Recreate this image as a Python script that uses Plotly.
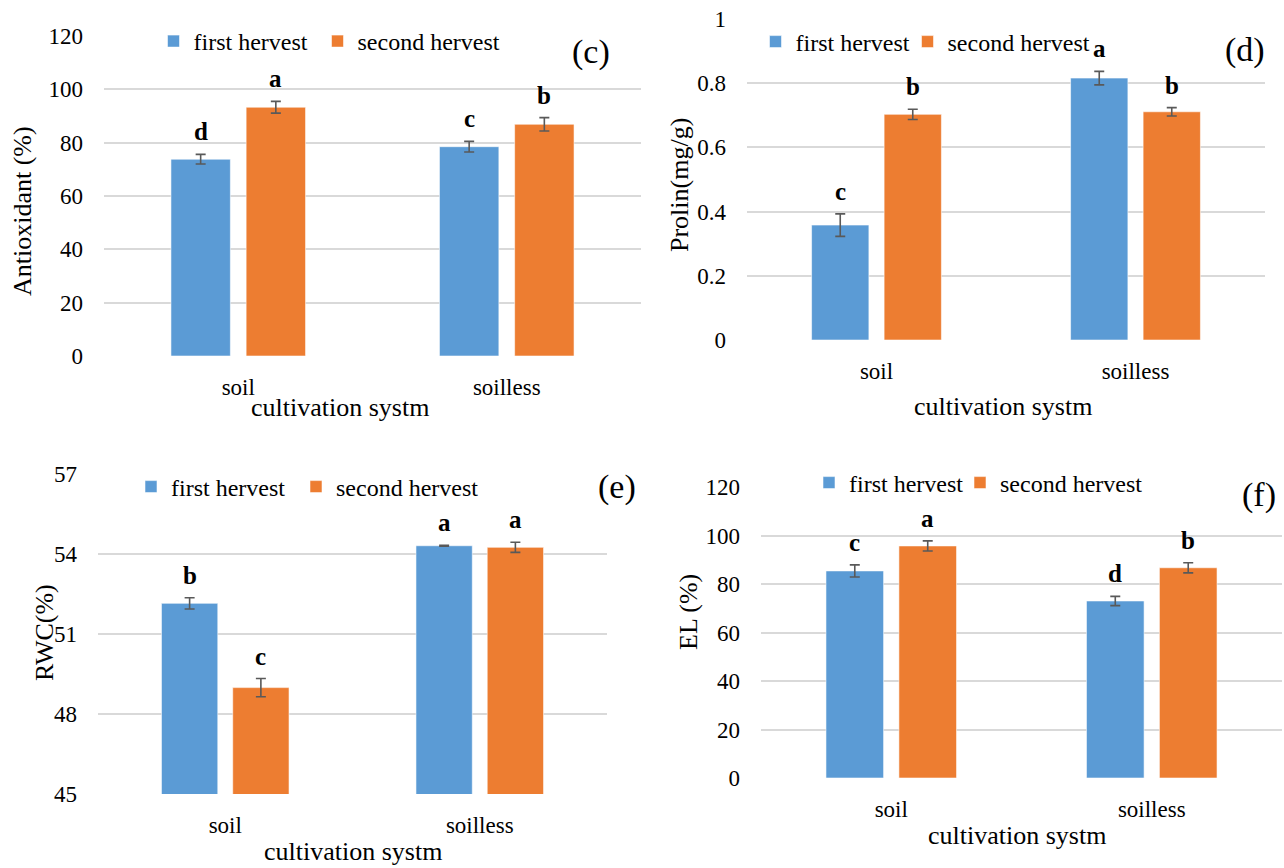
import plotly.graph_objects as go

# ---------------- data ----------------
categories = ["soil", "soilless"]
series_names = ["first hervest", "second hervest"]

antiox_first = [73.8, 78.5]
antiox_first_err = [1.8, 2.0]
antiox_second = [93.3, 86.9]
antiox_second_err = [2.2, 2.5]
antiox_letters_first = ["d", "c"]
antiox_letters_second = ["a", "b"]
antiox_ticks = [0, 20, 40, 60, 80, 100, 120]

prolin_first = [0.358, 0.816]
prolin_first_err = [0.035, 0.021]
prolin_second = [0.703, 0.711]
prolin_second_err = [0.016, 0.013]
prolin_letters_first = ["c", "a"]
prolin_letters_second = ["b", "b"]
prolin_ticks = [0, 0.2, 0.4, 0.6, 0.8, 1]

rwc_first = [52.15, 54.31]
rwc_first_err = [0.21, 0.02]
rwc_second = [48.99, 54.25]
rwc_second_err = [0.34, 0.19]
rwc_letters_first = ["b", "a"]
rwc_letters_second = ["c", "a"]
rwc_ticks = [45, 48, 51, 54, 57]

el_first = [85.4, 73.0]
el_first_err = [2.5, 1.9]
el_second = [95.7, 86.7]
el_second_err = [2.1, 2.1]
el_letters_first = ["c", "d"]
el_letters_second = ["a", "b"]
el_ticks = [0, 20, 40, 60, 80, 100, 120]

y_titles = ["Antioxidant (%)", "Prolin(mg/g)", "RWC(%)", "EL (%)"]
x_title = "cultivation systm"
panel_labels = ["(c)", "(d)", "(e)", "(f)"]

# ---------------- style / layout ----------------
W, H = 1284, 868
OFF = 0  # page body margin is removed by the post script below
FONT = '"Liberation Serif", "Times New Roman", Times, serif'
BLUE = "#5B9BD5"
ORANGE = "#ED7D31"
GRID = "#d9d9d9"
ERR = "#595959"
BARGAP = 0.44
BARGROUPGAP = 0.21

panels = [
    dict(data=(antiox_first, antiox_first_err, antiox_second, antiox_second_err,
               antiox_letters_first, antiox_letters_second), ticks=antiox_ticks,
         xpx=(104, 641), ypx=(36, 356),
         ytitle=(23, 211), xtitle=(340, 407), label=(591, 52),
         legend_x=(153.5, 317.5), legend_y=41.5),
    dict(data=(prolin_first, prolin_first_err, prolin_second, prolin_second_err,
               prolin_letters_first, prolin_letters_second), ticks=prolin_ticks,
         xpx=(747, 1265), ypx=(19, 340),
         ytitle=(680, 185), xtitle=(1003, 406), label=(1245, 50),
         legend_x=(755.5, 907.5), legend_y=42),
    dict(data=(rwc_first, rwc_first_err, rwc_second, rwc_second_err,
               rwc_letters_first, rwc_letters_second), ticks=rwc_ticks,
         xpx=(98, 607), ypx=(474, 794),
         ytitle=(44, 632), xtitle=(353, 851), label=(617, 487),
         legend_x=(131, 296), legend_y=487),
    dict(data=(el_first, el_first_err, el_second, el_second_err,
               el_letters_first, el_letters_second), ticks=el_ticks,
         xpx=(761, 1282), ypx=(487, 778),
         ytitle=(688, 612), xtitle=(1017, 835), label=(1259, 495),
         legend_x=(809, 960), legend_y=483),
]


def px_x(v):
    return (v - OFF) / W


def px_y(v):
    return 1 - (v - OFF) / H


fig = go.Figure()
annotations = []
layout_axes = {}

for i, p in enumerate(panels):
    n = "" if i == 0 else str(i + 1)
    xa, ya = "x" + n, "y" + n
    first, first_err, second, second_err, lf, ls = p["data"]
    ticks = p["ticks"]
    for k, (vals, errs, color, name, letters) in enumerate([
        (first, first_err, BLUE, series_names[0], lf),
        (second, second_err, ORANGE, series_names[1], ls),
    ]):
        idx = 2 * i + k
        leg = "legend" if idx == 0 else "legend" + str(idx + 1)
        fig.add_trace(go.Bar(
            x=categories, y=vals, name=name, xaxis=xa, yaxis=ya, legend=leg,
            marker=dict(color=color, line=dict(color="rgba(255,255,255,0.55)", width=1)),
            error_y=dict(type="data", array=errs, color=ERR, thickness=1.6, width=5),
        ))
        layout_axes[leg] = dict(
            orientation="h", x=px_x(p["legend_x"][k]), y=px_y(p["legend_y"]),
            xanchor="left", yanchor="middle", bgcolor="rgba(0,0,0,0)",
            font=dict(family=FONT, size=24, color="black"),
        )
        cat_w = (p["xpx"][1] - p["xpx"][0]) / len(categories)
        off = cat_w * (1 - BARGAP) / 4 * (-1 if k == 0 else 1)
        for c, v, e, t in zip(categories, vals, errs, letters):
            annotations.append(dict(
                x=c, y=v + e, xref=xa, yref=ya, text="<b>" + t + "</b>",
                showarrow=False, yanchor="bottom", xshift=off, yshift=7,
                font=dict(family=FONT, size=25, color="black"),
            ))

    span = ticks[-1] - ticks[0]
    layout_axes["xaxis" + n] = dict(
        domain=[px_x(p["xpx"][0]), px_x(p["xpx"][1])], anchor=ya,
        type="category", showgrid=False, showline=False, zeroline=False,
        ticks="", tickfont=dict(family=FONT, size=23, color="black"),
        ticklabelstandoff=15, fixedrange=True, automargin=False,
    )
    layout_axes["yaxis" + n] = dict(
        domain=[px_y(p["ypx"][1]), px_y(p["ypx"][0])], anchor=xa,
        range=[ticks[0], ticks[-1] + span * 1e-4],
        tickmode="array", tickvals=ticks, ticktext=[f"{t:g}" for t in ticks],
        showgrid=True, gridcolor=GRID, gridwidth=2, zeroline=False, showline=False,
        ticks="", tickfont=dict(family=FONT, size=23, color="black"),
        ticklabelstandoff=20, automargin=False,
    )
    annotations.append(dict(
        x=px_x(p["ytitle"][0]), y=px_y(p["ytitle"][1]), xref="paper", yref="paper",
        text=y_titles[i], textangle=-90, showarrow=False,
        xanchor="center", yanchor="middle",
        font=dict(family=FONT, size=26, color="black"),
    ))
    annotations.append(dict(
        x=px_x(p["xtitle"][0]), y=px_y(p["xtitle"][1]), xref="paper", yref="paper",
        text=x_title, showarrow=False, xanchor="center", yanchor="middle",
        borderpad=0, font=dict(family=FONT, size=26, color="black"),
    ))
    annotations.append(dict(
        x=px_x(p["label"][0]), y=px_y(p["label"][1]), xref="paper", yref="paper",
        text=panel_labels[i], showarrow=False, xanchor="center", yanchor="middle",
        font=dict(family=FONT, size=34, color="black"),
    ))

fig.update_layout(
    width=W, height=H, margin=dict(l=0, r=0, t=0, b=0, pad=0, autoexpand=False),
    paper_bgcolor="white", plot_bgcolor="white",
    barmode="group", bargap=BARGAP, bargroupgap=BARGROUPGAP,
    font=dict(family=FONT, color="black"),
    annotations=annotations, showlegend=True,
    **layout_axes,
)

fig.write_html(
    "out.html",
    config={"displayModeBar": False},
    post_script="document.body.style.margin='0';document.body.style.overflow='hidden';",
)
